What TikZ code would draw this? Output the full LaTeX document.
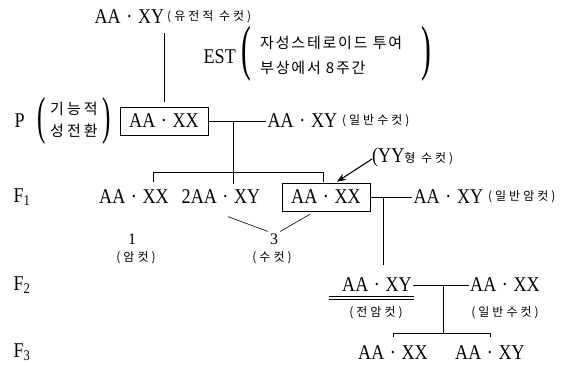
\documentclass[tikz,border=0pt]{standalone}
\usepackage{graphicx}
\usepackage{fontspec}
\setmainfont{Liberation Serif}
\newfontfamily\genofont{Liberation Serif}[FakeStretch=0.86]
\newfontfamily\krfont{Noto Sans CJK KR}
\usetikzlibrary{arrows.meta}
\newcommand{\gtype}[2]{#1\hspace{0.27em}·\hspace{0.27em}#2}
\newcommand{\krs}[1]{{\krfont\fontsize{12}{14}\selectfont\addfontfeature{LetterSpace=25}#1}}
\newcommand{\krbig}[2]{\krfont\fontsize{15}{#1}\selectfont\addfontfeature{LetterSpace=#2}}
\newcommand{\bigpar}[2]{\scalebox{0.48}[1]{\fontsize{#1}{#1}\selectfont #2}}
\begin{document}
\begin{tikzpicture}[x=1pt,y=-1pt,
  geno/.style={font=\genofont\fontsize{21}{23}\selectfont, inner sep=1.5pt},
  gbox/.style={geno, draw, line width=0.6pt, minimum width=88pt, minimum height=28pt},
  lbl/.style={inner sep=0pt},
  par/.style={inner sep=0pt},
  num/.style={font=\fontsize{16}{18}\selectfont, inner sep=2pt},
  conn/.style={line width=0.6pt},
]
\useasboundingbox (0,0) rectangle (564,365);

% top row
\node[geno, anchor=west] (top) at (93,17) {\gtype{AA}{XY}};
\node[lbl, anchor=west] (topk) at (167,17) {\krs{(유전적 수컷)}};
\node[geno, anchor=west] (est) at (202,57) {EST};
\node[par] (estL) at (246,54) {\bigpar{61}{(}};
\node[lbl, anchor=west, font=\krbig{25}{12}] (estk) at (260,55.5)
  {\begin{tabular}{@{}l@{}}자성스테로이드 투여\\부상에서 8주간\end{tabular}};
\node[par] (estR) at (426,54) {\bigpar{61}{)}};

% P row
\node[geno, anchor=west] (P) at (13,121) {P};
\node[par] (pL) at (42,121) {\bigpar{52}{(}};
\node[lbl, anchor=west, font=\krbig{22}{20}] (pk) at (50,121)
  {\begin{tabular}{@{}l@{}}기능적\\성전환\end{tabular}};
\node[par] (pR) at (107,121) {\bigpar{52}{)}};
\node[gbox] (pbox) at (164,121) {\gtype{AA}{XX}};
\node[geno, anchor=west] (pm) at (266,121) {\gtype{AA}{XY}};
\node[lbl, anchor=west] (pmk) at ([xshift=3pt]pm.east) {\krs{(일반수컷)}};
\draw[conn] (pbox.east) -- (pm.west);
\draw[conn] ([yshift=5pt]pbox.north) -- ([yshift=-7pt]pbox.north |- top.south);
\coordinate (j1) at (233,121);

% F1 row
\node[geno, anchor=west] (F1) at (12,197) {F\textsubscript{1}};
\node[geno] (f1a) at (134,197) {\gtype{AA}{XX}};
\node[geno] (f1b) at (221,197) {2\gtype{AA}{XY}};
\node[gbox] (f1c) at (326,197) {\gtype{AA}{XX}};
\node[geno, anchor=west] (f1d) at (412,197) {\gtype{AA}{XY}};
\node[lbl, anchor=west] (f1dk) at ([xshift=3pt]f1d.east) {\krs{(일반암컷)}};
\draw[conn] (j1) -- ([yshift=4pt]j1 |- f1b.north);
\draw[conn] ([xshift=19pt,yshift=6pt]f1a.north) -- ++(0,-10) -| ([xshift=-3pt,yshift=1pt]f1c.north);
\draw[conn] (f1c.east) -- (f1d.west);
\coordinate (j2) at (383,197);

\node[lbl, anchor=west] (yy) at (372,157) {{\genofont\fontsize{21}{23}\selectfont(YY}\krs{형 수컷)}};
\draw[line width=1.1pt, -{Stealth[length=9pt,width=7pt]}] ([yshift=-2pt]yy.west) -- ([xshift=11pt,yshift=1pt]f1c.north);

\node[num] (n1) at (132,239) {1};
\node[num] (n3) at (274,239) {3};
\draw[conn] ([xshift=7pt,yshift=-11pt]f1b.south) -- (n3.north west);
\draw[conn] ([xshift=-16pt,yshift=-3pt]f1c.south) -- (n3.north east);
\node[lbl] (fem) at (136,258) {\krs{(암컷)}};
\node[lbl] (mal) at (272,258) {\krs{(수컷)}};

% F2 row
\node[geno, anchor=west] (F2) at (12,285) {F\textsubscript{2}};
\node[geno] (f2a) at (377,285) {\gtype{AA}{XY}};
\node[geno] (f2b) at (505,285) {\gtype{AA}{XX}};
\draw[conn] (j2) -- ([yshift=11pt]j2 |- f2a.north);
\draw[conn] (f2a.east) -- (f2b.west);
\draw[conn] ([xshift=-12pt,yshift=-2.2pt]f2a.south west) -- ([xshift=1pt,yshift=-2.2pt]f2a.south east);
\draw[conn] ([xshift=-12pt,yshift=-5.6pt]f2a.south west) -- ([xshift=1pt,yshift=-5.6pt]f2a.south east);
\node[lbl] (f2ak) at (376,313) {\krs{(전암컷)}};
\node[lbl] (f2bk) at (505,313) {\krs{(일반수컷)}};
\coordinate (j3) at (443,285);

% F3 row
\node[geno, anchor=west] (F3) at (12,352) {F\textsubscript{3}};
\node[geno] (f3a) at (393,353) {\gtype{AA}{XX}};
\node[geno] (f3b) at (490,353) {\gtype{AA}{XY}};
\draw[conn] (j3) -- (j3 |- 0,333);
\draw[conn] ([yshift=7pt]f3a.north) -- (f3a.north |- 0,333) -| ([yshift=7pt]f3b.north);
\end{tikzpicture}
\end{document}
